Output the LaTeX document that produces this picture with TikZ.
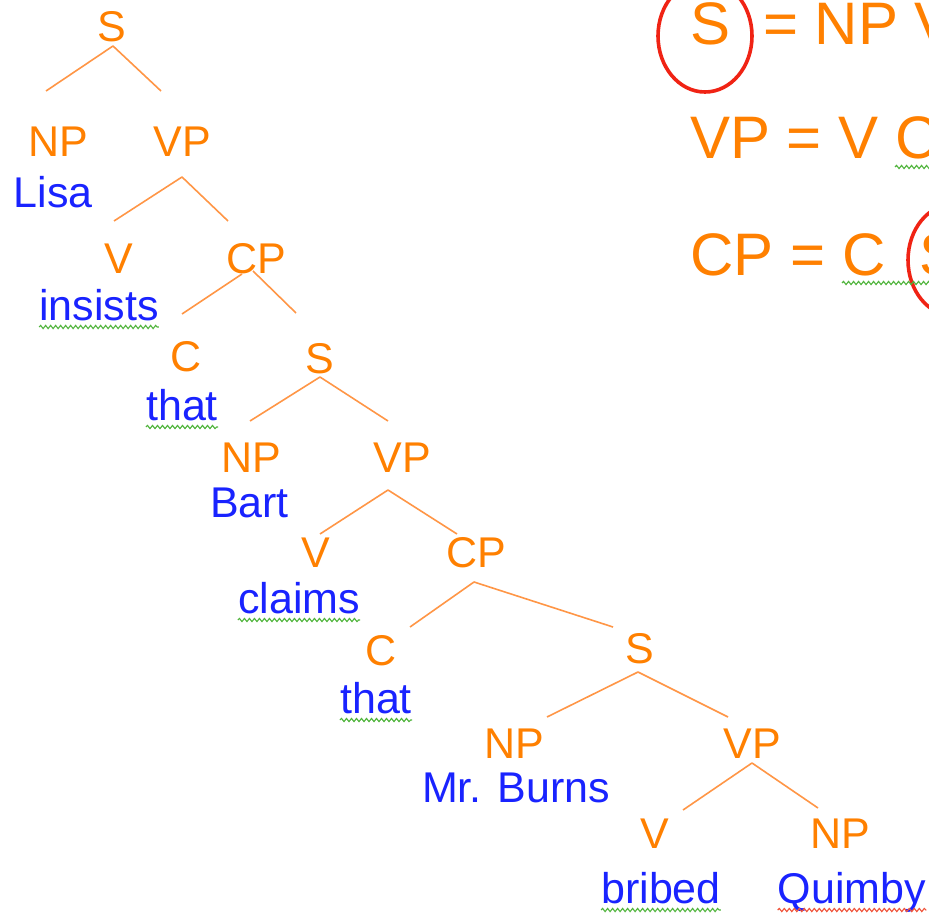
\documentclass[tikz,border=0pt]{standalone}
\usepackage{fontspec}
\setmainfont{Liberation Sans}
\usetikzlibrary{decorations.pathmorphing}
\definecolor{catorange}{RGB}{255,128,0}
\definecolor{branchorange}{RGB}{255,150,70}
\definecolor{wordblue}{RGB}{25,35,255}
\definecolor{ringred}{RGB}{240,35,20}
\definecolor{spellgreen}{RGB}{80,180,60}
\definecolor{spellred}{RGB}{240,85,60}
\begin{document}
\begin{tikzpicture}[x=1pt,y=-1pt,
  cat/.style={inner sep=0pt,anchor=base,text=catorange,font=\fontsize{43}{48}\selectfont},
  word/.style={inner sep=0pt,anchor=base,text=wordblue,font=\fontsize{43}{48}\selectfont},
  rulepart/.style={inner sep=0pt,anchor=base west,text=catorange,font=\fontsize{60}{66}\selectfont},
  branch/.style={draw=branchorange,line width=1.6pt,line join=round},
  squig/.style={draw=spellgreen,line width=1.1pt,decorate,decoration={snake,segment length=5pt,amplitude=1.6pt}},
  typo/.style={squig,draw=spellred},
  ring/.style={draw=ringred,line width=3.6pt}
]
\fill[white] (0,0) rectangle (929,915);
\path[use as bounding box] (0,0) rectangle (929,915);
\clip (0,0) rectangle (929,915);

% ---------- category labels ----------
\node[cat] (s0)  at (111.5,42) {S};
\node[cat] (np1) at (58,157)  {NP};
\node[cat] (vp1) at (182,157) {VP};
\node[cat] (v1)  at (119,273) {V};
\node[cat] (cp1) at (256,273) {CP};
\node[cat] (c1)  at (186,371) {C};
\node[cat] (s2)  at (320,373) {S};
\node[cat] (np2) at (251.5,472) {NP};
\node[cat] (vp2) at (402.5,472) {VP};
\node[cat] (v2)  at (316,567) {V};
\node[cat] (cp2) at (476,567) {CP};
\node[cat] (c2)  at (381,665) {C};
\node[cat] (s3)  at (639.5,663) {S};
\node[cat] (np3) at (514,758) {NP};
\node[cat] (vp3) at (752,758) {VP};
\node[cat] (v3)  at (655,848) {V};
\node[cat] (np4) at (840,848) {NP};

% ---------- words ----------
\node[word] (lisa)    at (53,207)  {Lisa};
\node[word] (insists) at (99,320)  {insists};
\node[word] (that1)   at (182,420) {that};
\node[word] (bart)    at (249.5,517) {Bart};
\node[word] (claims)  at (299,613) {claims};
\node[word] (that2)   at (376,713) {that};
\node[word] (burns)   at (516,802) {Mr. Burns};
\node[word] (bribed)  at (661,903) {bribed};
\node[word] (quimby)  at (852,903) {Quimby};

% ---------- branch end points ----------
\coordinate (s0-t) at (113,46);  \coordinate (s0-l) at (46,91);   \coordinate (s0-r) at (161,91);
\coordinate (vp1-t) at (182,177); \coordinate (vp1-l) at (114,221); \coordinate (vp1-r) at (228,221);
\coordinate (cp1-tl) at (242,274); \coordinate (cp1-tr) at (253,271);
\coordinate (cp1-l) at (182,314); \coordinate (cp1-r) at (296,313);
\coordinate (s2-t) at (320,377);  \coordinate (s2-l) at (250,421);  \coordinate (s2-r) at (388,421);
\coordinate (vp2-t) at (388,490); \coordinate (vp2-l) at (320,534); \coordinate (vp2-r) at (457,534);
\coordinate (cp2-t) at (474,582); \coordinate (cp2-l) at (410,627); \coordinate (cp2-r) at (613,627);
\coordinate (s3-t) at (638,672);  \coordinate (s3-l) at (547,717);  \coordinate (s3-r) at (728,717);
\coordinate (vp3-t) at (752,763); \coordinate (vp3-l) at (683,810); \coordinate (vp3-r) at (818,808);

% ---------- branches ----------
\draw[branch] (s0-l) -- (s0-t) -- (s0-r);
\draw[branch] (vp1-l) -- (vp1-t) -- (vp1-r);
\draw[branch] (cp1-l) -- (cp1-tl);
\draw[branch] (cp1-tr) -- (cp1-r);
\draw[branch] (s2-l) -- (s2-t) -- (s2-r);
\draw[branch] (vp2-l) -- (vp2-t) -- (vp2-r);
\draw[branch] (cp2-l) -- (cp2-t) -- (cp2-r);
\draw[branch] (s3-l) -- (s3-t) -- (s3-r);
\draw[branch] (vp3-l) -- (vp3-t) -- (vp3-r);

% ---------- spelling underlines ----------
\foreach \w in {insists,that1,claims,that2,bribed}
  \draw[squig] ([yshift=-7pt]\w.base west) -- ([yshift=-7pt]\w.base east);
\draw[typo] ([yshift=-7pt]quimby.base west) -- ([yshift=-7pt]quimby.base east);

% ---------- phrase-structure rules ----------
\node[rulepart] (rS)   at (690,45)  {S};
\node[rulepart] (r1)   at (763,45)  {= NP VP};
\node[rulepart] (r2)   at (690,158) {VP = V};
\node[rulepart] (r2cp) at (895,158) {CP};
\node[rulepart] (r3)   at (690,275) {CP =};
\node[rulepart] (r3c)  at (842,275) {C};
\node[rulepart] (r3s)  at (919,275) {S};

\draw[ring] (705,36) ellipse [x radius=47pt, y radius=56pt];
\draw[ring] (954,260) ellipse [x radius=46pt, y radius=56pt];

\draw[squig] ([yshift=-9pt]r2cp.base west) -- ([yshift=-9pt]r2cp.base east);
\draw[squig] ([yshift=-8pt]r3c.base west) -- ([yshift=-8pt]r3s.base east);
\end{tikzpicture}
\end{document}
